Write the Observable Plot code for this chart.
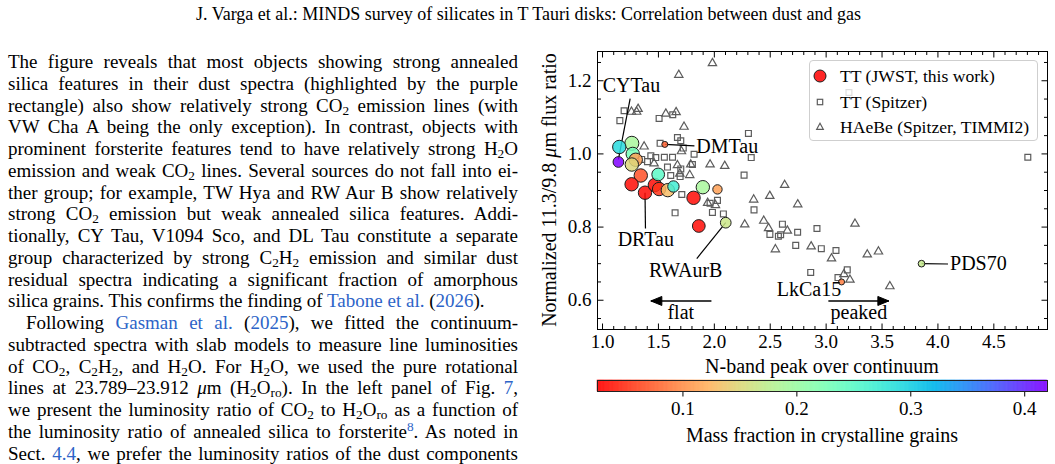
<!DOCTYPE html>
<html><head><meta charset="utf-8">
<script src="https://cdn.jsdelivr.net/npm/d3@7"></script>
<script src="https://cdn.jsdelivr.net/npm/@observablehq/plot@0.6"></script>
<style>
html,body{margin:0;padding:0;background:#fff;}
body{width:1055px;height:464px;position:relative;overflow:hidden;font-family:"Liberation Serif","Times New Roman",serif;color:#000;}
#header{position:absolute;left:0;width:1057px;top:3px;text-align:center;font-size:18px;line-height:22px;white-space:nowrap;}
#text{position:absolute;left:8px;top:51px;width:510px;font-size:19px;line-height:21.75px;}
#text .l{text-align:justify;text-align-last:justify;height:21.75px;}
#text .last{text-align:left;text-align-last:left;}
#text .ind{text-indent:18px;}
#text a{color:#2d64c8;text-decoration:none;}
sub{font-size:0.7em;line-height:0;vertical-align:-0.25em;}
sup{font-size:0.7em;line-height:0;vertical-align:0.5em;}
#main{position:absolute;left:530px;top:35px;}
#cbar{position:absolute;left:530px;top:374px;}
.lab{position:absolute;font-size:20px;line-height:24px;text-align:center;white-space:nowrap;}
#ylab{left:349px;top:178px;width:400px;transform:rotate(-90deg);transform-origin:50% 50%;}
#legend{position:absolute;left:809px;top:60px;width:227px;height:79px;border:1px solid #cfcfcf;border-radius:4px;background:rgba(255,255,255,0.8);font-size:17.6px;}
#legend .row{position:absolute;left:0;height:22px;line-height:22px;white-space:nowrap;}
#legend svg{position:absolute;left:0;top:0;}
#legend span{position:absolute;left:30px;top:0;}
</style>
</head><body>
<div id="header">J. Varga et al.: MINDS survey of silicates in T Tauri disks: Correlation between dust and gas</div>
<div id="text">
<div class="l">The figure reveals that most objects showing strong annealed</div>
<div class="l">silica features in their dust spectra (highlighted by the purple</div>
<div class="l">rectangle) also show relatively strong CO<sub>2</sub> emission lines (with</div>
<div class="l">VW Cha A being the only exception). In contrast, objects with</div>
<div class="l">prominent forsterite features tend to have relatively strong H<sub>2</sub>O</div>
<div class="l">emission and weak CO<sub>2</sub> lines. Several sources do not fall into ei-</div>
<div class="l">ther group; for example, TW Hya and RW Aur B show relatively</div>
<div class="l">strong CO<sub>2</sub> emission but weak annealed silica features. Addi-</div>
<div class="l">tionally, CY Tau, V1094 Sco, and DL Tau constitute a separate</div>
<div class="l">group characterized by strong C<sub>2</sub>H<sub>2</sub> emission and similar dust</div>
<div class="l">residual spectra indicating a significant fraction of amorphous</div>
<div class="l last">silica grains. This confirms the finding of <a>Tabone et al.</a> (<a>2026</a>).</div>
<div class="l ind">Following <a>Gasman et al.</a> (<a>2025</a>), we fitted the continuum-</div>
<div class="l">subtracted spectra with slab models to measure line luminosities</div>
<div class="l">of CO<sub>2</sub>, C<sub>2</sub>H<sub>2</sub>, and H<sub>2</sub>O. For H<sub>2</sub>O, we used the pure rotational</div>
<div class="l">lines at 23.789–23.912 <i>μ</i>m (H<sub>2</sub>O<sub>ro</sub>). In the left panel of Fig. <a>7</a>,</div>
<div class="l">we present the luminosity ratio of CO<sub>2</sub> to H<sub>2</sub>O<sub>ro</sub> as a function of</div>
<div class="l">the luminosity ratio of annealed silica to forsterite<sup><a>8</a></sup>. As noted in</div>
<div class="l">Sect. <a>4.4</a>, we prefer the luminosity ratios of the dust components</div>
</div>
<div id="main"></div>
<div id="cbar"></div>
<div class="lab" id="ylab">Normalized 11.3/9.8 <i>μ</i>m flux ratio</div>
<div class="lab" style="left:622px;top:354px;width:400px;">N-band peak over continuum</div>
<div class="lab" style="left:622px;top:423px;width:400px;">Mass fraction in crystalline grains</div>
<div id="legend"></div>
<script>
// ---------------- data ----------------
// JWST T Tauri sample (this work)
const jwstX = [1.142,1.150,1.262,1.270,1.297,1.262,1.342,1.260,1.380,1.498,1.468,1.506,1.584,1.634,1.897,2.028,1.814,1.861,2.102,1.557,3.138,3.853];
const jwstY = [0.978,1.019,1.029,1.000,0.984,0.971,0.941,0.917,0.894,0.944,0.915,0.904,0.901,0.911,0.909,0.903,0.880,0.803,0.812,1.026,0.650,0.700];
const jwstCryst = [0.42,0.29,0.19,0.23,0.11,0.15,0.065,0.03,0.03,0.25,0.03,0.05,0.13,0.27,0.19,0.11,0.03,0.03,0.165,0.075,0.09,0.17];
const jwstWeight = [0.8,1,1.05,1,1,1,1,1,1,0.95,1,1,1,0.85,1,0.7,1,0.95,0.8,0.45,0.45,0.5];
// T Tauri (Spitzer)
const sqX = [1.155,1.193,1.506,1.628,2.305,1.670,1.515,1.700,1.722,1.819,2.330,1.432,1.476,1.553,1.402,1.350,1.626,1.581,1.610,1.700,1.694,1.804,2.266,1.709,1.649,1.962,2.028,1.983,2.081,2.355,2.609,2.497,2.573,2.593,2.745,2.918,2.728,2.957,3.088,2.862,3.106,3.189,4.804,3.204];
const sqY = [1.091,1.118,1.097,1.107,1.056,1.045,1.029,1.036,1.016,0.999,0.990,0.995,0.990,0.991,0.979,0.985,0.991,0.964,0.941,0.959,0.938,0.971,0.942,0.889,0.839,0.865,0.873,0.840,0.836,0.847,0.808,0.780,0.775,0.779,0.786,0.796,0.750,0.741,0.736,0.676,0.662,0.683,0.991,1.168];
// Herbig Ae/Be (Spitzer, TIMMI2)
const triX = [1.983,1.682,1.318,1.305,1.259,1.566,1.658,1.729,1.372,1.706,1.670,1.789,1.962,2.093,1.461,1.691,1.780,2.629,2.352,2.496,2.746,1.940,2.010,2.272,2.442,2.485,2.653,2.546,2.866,3.048,3.258,3.368,3.468,3.570,3.159,3.213];
const triY = [1.248,1.216,1.123,1.115,1.115,1.110,1.114,1.074,1.020,1.007,0.969,0.971,0.971,0.967,0.974,0.946,0.942,0.915,0.875,0.885,0.862,0.866,0.860,0.807,0.817,0.797,0.790,0.739,0.747,0.714,0.809,0.725,0.733,0.638,0.671,0.656];
// annotations
const annName = ["CYTau","DMTau","DRTau","RWAurB","LkCa15","PDS70"];
const annTextX = [1.259,1.838,1.387,1.744,2.846,4.108];
const annTextY = [1.188,1.021,0.766,0.682,0.629,0.699];
const annAnchor = ["middle","start","middle","middle","middle","start"];
const annFromX = [1.247,1.557,1.384,1.843,null,3.853];
const annFromY = [1.151,1.026,0.796,0.714,null,0.700];
const annToX = [1.142,1.822,1.380,2.102,null,4.090];
const annToY = [0.985,1.022,0.894,0.812,null,0.699];
// flat / peaked arrows
const arrowLabel = ["flat","peaked"];
const arrowFromX = [1.974,3.020];
const arrowToX = [1.432,3.561];
const arrowY = [0.598,0.598];
const arrowTextX = [1.700,3.293];
const arrowTextY = [0.565,0.565];
// axes
const xDomain = [0.955,4.98];
const yDomain = [0.52,1.28];
const xMajor = [1.0,1.5,2.0,2.5,3.0,3.5,4.0,4.5];
const yMajor = [0.6,0.8,1.0,1.2];
const cDomain = [0.025,0.42];
const cTicks = [0.1,0.2,0.3,0.4];

// ---------------- build ----------------
const jwst = jwstX.map((x,i)=>({x, y:jwstY[i], c:jwstCryst[i], w:jwstWeight[i]}));
const squares = sqX.map((x,i)=>({x, y:sqY[i]}));
const triangles = triX.map((x,i)=>({x, y:triY[i]}));
const ann = annName.map((t,i)=>({t, x:annTextX[i], y:annTextY[i], a:annAnchor[i], x1:annFromX[i], y1:annFromY[i], x2:annToX[i], y2:annToY[i]}));
const arrows = arrowLabel.map((t,i)=>({t, x1:arrowFromX[i], x2:arrowToX[i], y:arrowY[i], tx:arrowTextX[i], ty:arrowTextY[i]}));
const annLines = ann.filter(d=>d.x1!=null);

function rainbowR(t){
  const x = 1 - t;
  const r = Math.max(0,Math.min(1,Math.abs(2*x-0.5)));
  const g = Math.max(0,Math.sin(Math.PI*x));
  const b = Math.max(0,Math.cos(Math.PI*x/2));
  return d3.rgb(r*255,g*255,b*255).formatHex();
}
const colorOpts = {type:"linear", domain:cDomain, interpolate: rainbowR};

// tick symbols (inward, matplotlib style)
const tick = (dx,dy)=>({draw(ctx){ctx.moveTo(0,0);ctx.lineTo(dx,dy);}});
const headL = {draw(ctx){ctx.moveTo(0,0);ctx.lineTo(11,-4.5);ctx.lineTo(11,4.5);ctx.closePath();}};
const headR = {draw(ctx){ctx.moveTo(0,0);ctx.lineTo(-11,-4.5);ctx.lineTo(-11,4.5);ctx.closePath();}};

const xMinor = d3.range(10,50).map(v=>v/10).filter(v=>!xMajor.some(m=>Math.abs(m-v)<1e-9));
const yMinor = d3.range(11,26).map(v=>v/20).filter(v=>!yMajor.some(m=>Math.abs(m-v)<1e-9));
const tk = {fill:"none", stroke:"black", strokeWidth:1};

const main = Plot.plot({
  width:525, height:334,
  marginLeft:67, marginRight:8, marginTop:16, marginBottom:40,
  style:{fontFamily:"Liberation Serif, Times New Roman, serif", fontSize:"19px", color:"black", background:"transparent", overflow:"visible"},
  x:{domain:xDomain, ticks:xMajor, tickSize:0, tickPadding:5, tickFormat:d3.format(".1f"), label:null},
  y:{domain:yDomain, ticks:yMajor, tickSize:0, tickPadding:6, tickFormat:d3.format(".1f"), label:null},
  color:colorOpts,
  r:{type:"linear", domain:[0,1], range:[0,6.7]},
  marks:[
    Plot.dot(squares, {x:"x", y:"y", symbol:"square", r:3.3, fill:"none", stroke:"#5c5c5c", strokeWidth:1.2}),
    Plot.dot(triangles, {x:"x", y:"y", symbol:"triangle", r:3.1, fill:"none", stroke:"#5c5c5c", strokeWidth:1.2}),
    Plot.link(annLines, {x1:"x1", y1:"y1", x2:"x2", y2:"y2", stroke:"black", strokeWidth:1.2}),
    Plot.dot(jwst, {x:"x", y:"y", r:"w", fill:"c", fillOpacity:0.85, stroke:"#1e1e1e", strokeWidth:1}),
    Plot.text(ann.filter(d=>d.a==="middle"), {x:"x", y:"y", text:"t", textAnchor:"middle", fontSize:20, fill:"black"}),
    Plot.text(ann.filter(d=>d.a==="start"), {x:"x", y:"y", text:"t", textAnchor:"start", fontSize:20, fill:"black"}),
    Plot.link(arrows, {x1:"x1", x2:"x2", y1:"y", y2:"y", stroke:"black", strokeWidth:1.5}),
    Plot.dot(arrows.filter(d=>d.x2<d.x1), {x:"x2", y:"y", symbol:headL, fill:"black", stroke:"black", strokeWidth:1}),
    Plot.dot(arrows.filter(d=>d.x2>d.x1), {x:"x2", y:"y", symbol:headR, fill:"black", stroke:"black", strokeWidth:1}),
    Plot.text(arrows, {x:"tx", y:"ty", text:"t", textAnchor:"middle", fontSize:20, fill:"black"}),
    // inward ticks on all four sides
    Plot.dot(xMajor, {x:d=>d, frameAnchor:"bottom", symbol:tick(0,-6), ...tk}),
    Plot.dot(xMinor, {x:d=>d, frameAnchor:"bottom", symbol:tick(0,-3.5), ...tk}),
    Plot.dot(xMajor, {x:d=>d, frameAnchor:"top", symbol:tick(0,6), ...tk}),
    Plot.dot(xMinor, {x:d=>d, frameAnchor:"top", symbol:tick(0,3.5), ...tk}),
    Plot.dot(yMajor, {y:d=>d, frameAnchor:"left", symbol:tick(6,0), ...tk}),
    Plot.dot(yMinor, {y:d=>d, frameAnchor:"left", symbol:tick(3.5,0), ...tk}),
    Plot.dot(yMajor, {y:d=>d, frameAnchor:"right", symbol:tick(-6,0), ...tk}),
    Plot.dot(yMinor, {y:d=>d, frameAnchor:"right", symbol:tick(-3.5,0), ...tk}),
    Plot.frame({stroke:"black", strokeWidth:1})
  ]
});
document.getElementById("main").appendChild(main);

// colorbar
const cbSteps = d3.range(0,400).map(i=>({a:cDomain[0]+(cDomain[1]-cDomain[0])*i/400, b:cDomain[0]+(cDomain[1]-cDomain[0])*(i+1)/400}));
const cbar = Plot.plot({
  width:525, height:47,
  marginLeft:67, marginRight:8, marginTop:6, marginBottom:30,
  style:{fontFamily:"Liberation Serif, Times New Roman, serif", fontSize:"19px", color:"black", background:"transparent", overflow:"visible"},
  x:{domain:cDomain, ticks:cTicks, tickSize:0, tickPadding:10, tickFormat:d3.format(".1f"), label:null},
  y:{axis:null},
  color:colorOpts,
  marks:[
    Plot.rect(cbSteps, {x1:"a", x2:"b", fill:d=>(d.a+d.b)/2, fillOpacity:0.85, inset:-0.3}),
    Plot.dot(cTicks, {x:d=>d, frameAnchor:"bottom", symbol:tick(0,5), ...tk}),
    Plot.frame({stroke:"#222", strokeWidth:1})
  ]
});
document.getElementById("cbar").appendChild(cbar);

// legend
const legendRows = [
  {label:"TT (JWST, this work)", kind:"circle"},
  {label:"TT (Spitzer)", kind:"square"},
  {label:"HAeBe (Spitzer, TIMMI2)", kind:"triangle"}
];
const legendTop = [3.5, 30, 55];
const lg = document.getElementById("legend");
legendRows.forEach((row,i)=>{
  const div = document.createElement("div");
  div.className = "row";
  div.style.top = legendTop[i] + "px";
  div.style.width = "227px";
  let sym = "";
  if (row.kind==="circle") sym = `<circle cx="10" cy="11" r="6" fill="${rainbowR(0)}" fill-opacity="0.85" stroke="#1e1e1e" stroke-width="1"/>`;
  if (row.kind==="square") sym = `<rect x="7.3" y="8.3" width="5.4" height="5.4" fill="none" stroke="#5c5c5c" stroke-width="1.2"/>`;
  if (row.kind==="triangle") sym = `<path d="M10,7.3L13.3,13.3L6.7,13.3Z" fill="none" stroke="#5c5c5c" stroke-width="1.2"/>`;
  div.innerHTML = `<svg width="24" height="22">${sym}</svg><span>${row.label}</span>`;
  lg.appendChild(div);
});
</script>
</body></html>
